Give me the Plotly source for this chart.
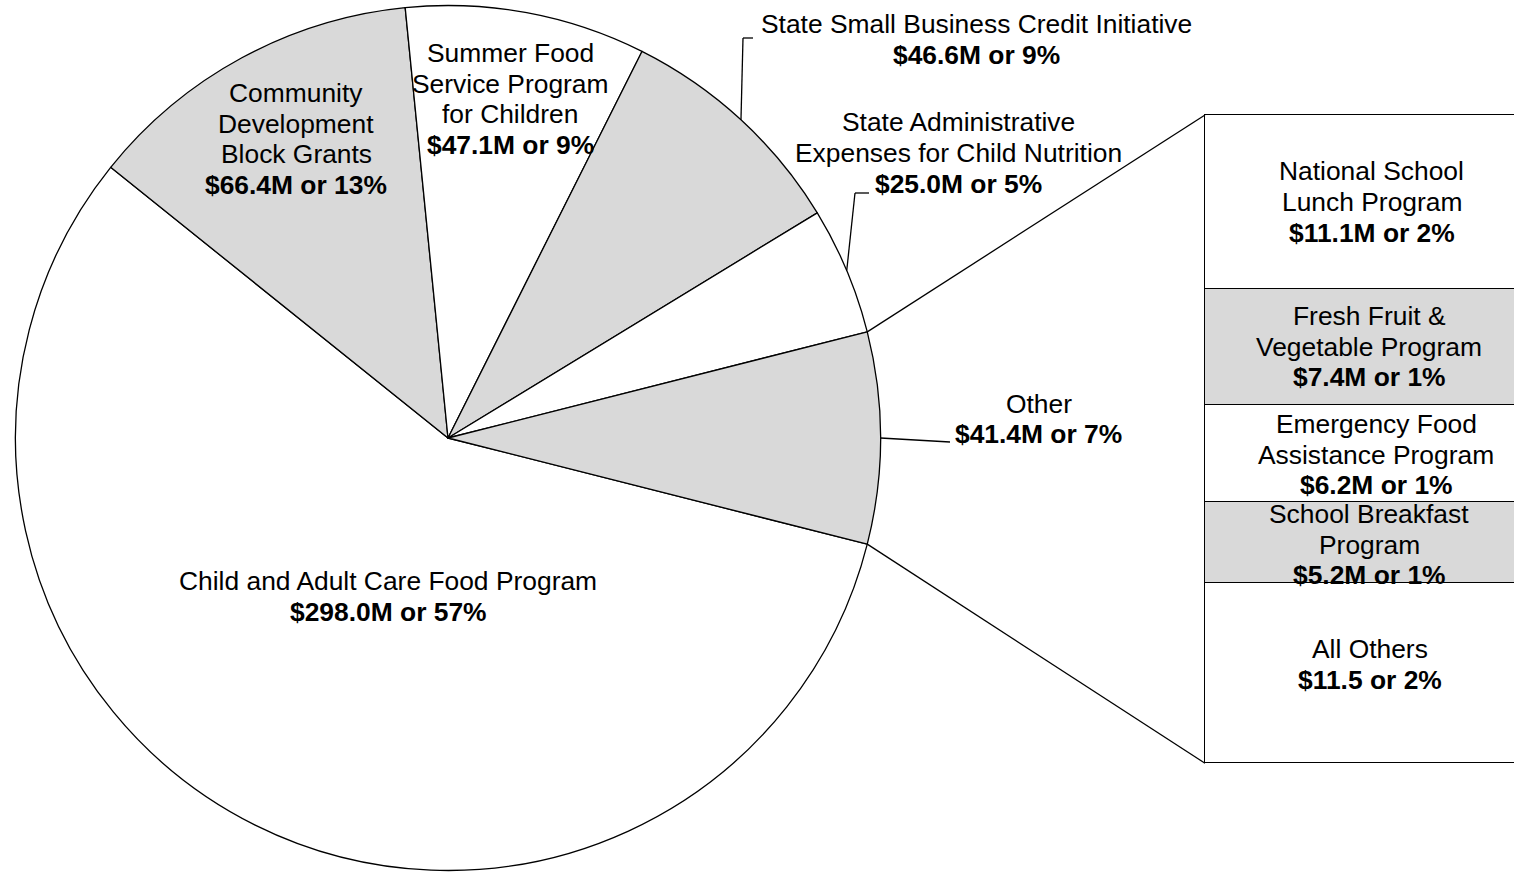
import math
import plotly.graph_objects as go

W, H = 1514, 872

# ---------------- data ----------------
pie_labels = [
    "Child and Adult Care Food Program",
    "Community\nDevelopment\nBlock Grants",
    "Summer Food\nService Program\nfor Children",
    "State Small Business Credit Initiative",
    "State Administrative\nExpenses for Child Nutrition",
    "Other",
]
pie_values = [298.0, 66.4, 47.1, 46.6, 25.0, 41.4]
pie_value_text = ["$298.0M or 57%", "$66.4M or 13%", "$47.1M or 9%",
                  "$46.6M or 9%", "$25.0M or 5%", "$41.4M or 7%"]

bar_labels = [
    "National School\nLunch Program",
    "Fresh Fruit &amp;\nVegetable Program",
    "Emergency Food\nAssistance Program",
    "School Breakfast\nProgram",
    "All Others",
]
bar_values = [11.1, 7.4, 6.2, 5.2, 11.5]
bar_value_text = ["$11.1M or 2%", "$7.4M or 1%", "$6.2M or 1%", "$5.2M or 1%", "$11.5 or 2%"]

# ---------------- styles / layout constants ----------------
GRAY = "#d9d9d9"
pie_fill = ["white", GRAY, "white", GRAY, "white", GRAY]
bar_fill = ["white", GRAY, "white", GRAY, "white"]
FONT = "Liberation Sans, Arial, sans-serif"
FS = 26.4
LINE = 30.6
LW = 1.3

# pie domain in pixels
pie_x0, pie_x1 = 15.5, 880.5
pie_top, pie_bot = 5.5, 870.5
dom_x = [pie_x0 / W, pie_x1 / W]
dom_y = [1 - pie_bot / H, 1 - pie_top / H]
cx = (pie_x0 + pie_x1) / 2
cy = (pie_top + pie_bot) / 2
R = min(pie_x1 - pie_x0, pie_bot - pie_top) / 2

total = sum(pie_values)
other_idx = len(pie_values) - 1
# rotate so that the "Other" slice is centred on 3 o'clock
rotation = 90 + 360 * pie_values[other_idx] / total / 2

# bar geometry (pixels)
bar_left_px = 1205
bar_center_px = 1370
bar_top_px, bar_bot_px = 115, 763.3
bar_total = sum(bar_values)
k_y = (bar_bot_px - bar_top_px) / bar_total
half_w = bar_center_px - bar_left_px
ax_x0_px = 1200
ax_y0_px, ax_y1_px = 110, 768
x_range = [-0.5 - (bar_left_px - ax_x0_px) / (2 * half_w),
           -0.5 + (W - bar_left_px) / (2 * half_w)]
y_range = [bar_total + (ax_y1_px - bar_bot_px) / k_y, -(bar_top_px - ax_y0_px) / k_y]


def P(px, py):
    return px / W, 1 - py / H


def clock_pt(angle_deg, r=R):
    a = math.radians(angle_deg)
    return cx + r * math.sin(a), cy - r * math.cos(a)


# slice clock angles
starts, ends = [], []
acc = rotation
for v in pie_values:
    starts.append(acc)
    acc += 360 * v / total
    ends.append(acc)

fig = go.Figure()
fig.add_trace(go.Pie(
    labels=[l.replace("\n", " ") for l in pie_labels],
    values=pie_values,
    sort=False,
    direction="clockwise",
    rotation=rotation,
    marker=dict(colors=pie_fill, line=dict(color="black", width=LW)),
    textinfo="none",
    hoverinfo="skip",
    showlegend=False,
    domain=dict(x=dom_x, y=dom_y),
))

for lab, v, c in zip(bar_labels, bar_values, bar_fill):
    fig.add_trace(go.Bar(
        x=[0], y=[v], width=[1],
        marker=dict(color=c, line=dict(color="black", width=LW)),
        hoverinfo="skip", showlegend=False, name=lab.replace("\n", " "),
    ))

shapes = []


def seg(p, q):
    a = P(*p)
    b = P(*q)
    shapes.append(dict(type="line", xref="paper", yref="paper",
                       x0=a[0], y0=a[1], x1=b[0], y1=b[1],
                       line=dict(color="black", width=LW)))


# connector lines from the "Other" slice to the bar
p_top = clock_pt(starts[other_idx])
p_bot = clock_pt(ends[other_idx])
seg(p_top, (bar_left_px, bar_top_px))
seg(p_bot, (bar_left_px, bar_bot_px))

# leader lines (slice index -> elbow points)
leaders = {3: [(743, 38), (753, 38)], 4: [(855, 193), (869, 193)], 5: [(950, 442)]}
for i, pts in leaders.items():
    mid = (starts[i] + ends[i]) / 2
    prev = clock_pt(mid)
    for q in pts:
        seg(prev, q)
        prev = q

annotations = []

# pie labels: centre x and first-line centre y (pixels)
pie_label_pos = [(388, 581), (296, 93), (510, 53), (976, 24), (958, 122.5), (1038.5, 403.5)]
for lab, vt, (lx, ly) in zip(pie_labels, pie_value_text, pie_label_pos):
    lines = lab.split("\n") + ["<b>" + vt + "</b>"]
    for j, t in enumerate(lines):
        x, y = P(lx, ly + j * LINE)
        annotations.append(dict(text=t, x=x, y=y, xref="paper", yref="paper",
                                xanchor="center", yanchor="middle", showarrow=False,
                                font=dict(family=FONT, size=FS, color="black")))

# bar labels: positioned at the middle of each stacked segment
bar_dx = [1.5, -1, 6, -1, 0]
bar_dy = [0, 0, 1.3, 2, -9]
cum = 0
for lab, v, vt, dx, dy in zip(bar_labels, bar_values, bar_value_text, bar_dx, bar_dy):
    mid = cum + v / 2
    cum += v
    lines = lab.split("\n") + ["<b>" + vt + "</b>"]
    n = len(lines)
    for j, t in enumerate(lines):
        off = (j - (n - 1) / 2) * LINE + dy
        annotations.append(dict(text=t, x=0, y=mid, xref="x", yref="y",
                                xshift=dx, yshift=-off,
                                xanchor="center", yanchor="middle", showarrow=False,
                                font=dict(family=FONT, size=FS, color="black")))

fig.update_layout(
    width=W, height=H,
    margin=dict(l=0, r=0, t=0, b=0, pad=0),
    paper_bgcolor="white", plot_bgcolor="rgba(0,0,0,0)",
    barmode="stack", bargap=0,
    xaxis=dict(domain=[ax_x0_px / W, 1], range=x_range, visible=False, fixedrange=True),
    yaxis=dict(domain=[1 - ax_y1_px / H, 1 - ax_y0_px / H], range=y_range, visible=False,
               fixedrange=True),
    shapes=shapes,
    annotations=annotations,
    font=dict(family=FONT, size=FS, color="black"),
)

fig.write_html(
    "out.html",
    config={"displayModeBar": False},
    post_script="document.body.style.margin='0';document.body.style.overflow='hidden';",
)
